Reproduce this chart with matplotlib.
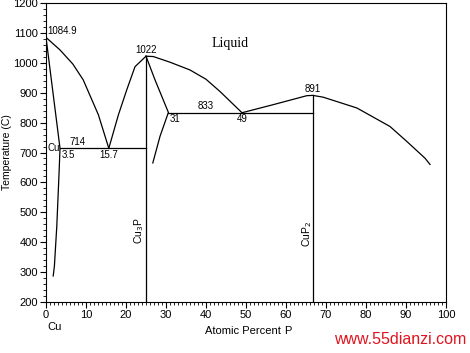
import matplotlib
matplotlib.use("Agg")
import matplotlib.pyplot as plt
from matplotlib.ticker import MultipleLocator

# --- data (atomic percent P, temperature C) ---
cu_liquidus_x = [0, 3.5, 6.7, 9.3, 13.1, 15.7]
cu_liquidus_y = [1084.9, 1043, 996, 943, 826, 714]

cu_solvus_x = [0, 3.5, 3.3, 2.7, 2.1, 1.8]
cu_solvus_y = [1084.9, 714, 643, 454, 320, 287]

cu3p_left_liq_x = [15.7, 18.1, 20.2, 22.25, 25]
cu3p_left_liq_y = [714, 826, 910, 987, 1022]

cu3p_right_liq_x = [25, 26.8, 31, 36, 40, 43.5, 49]
cu3p_right_liq_y = [1022, 1021, 1002, 976, 945, 904, 833]

cu3p_solvus_x = [25, 27.25, 30.6, 28.5, 26.7]
cu3p_solvus_y = [1022, 943, 834, 754, 665]

cup2_liq_x = [49, 56.8, 65.2, 66.7, 69.3, 77.7, 86, 90.2, 94.75, 96]
cup2_liq_y = [833, 860, 890, 891, 885, 849, 787, 737, 681, 660]

eutectic1_x = [3.5, 25]
eutectic1_t = 714
eutectic2_x = [30.6, 66.7]
eutectic2_t = 833

compound_x = [25, 66.7]
compound_t = [1022, 891]
compound_names = ["Cu$_3$P", "CuP$_2$"]

x_ticks = [0, 10, 20, 30, 40, 50, 60, 70, 80, 90, 100]
y_ticks = [200, 300, 400, 500, 600, 700, 800, 900, 1000, 1100, 1200]

plt.rcParams['font.family'] = ['Liberation Sans', 'DejaVu Sans']

fig = plt.figure(figsize=(4.70, 3.53), dpi=100)
ax = fig.add_axes([46/470, 51/353, 400/470, 299/353])
ax.set_xlim(0, 100)
ax.set_ylim(200, 1200)

lw = 0.9
kw = dict(color='black', lw=lw)
ax.plot(cu_liquidus_x, cu_liquidus_y, **kw)
ax.plot(cu_solvus_x, cu_solvus_y, **kw)
ax.plot(cu3p_left_liq_x, cu3p_left_liq_y, **kw)
ax.plot(cu3p_right_liq_x, cu3p_right_liq_y, **kw)
ax.plot(cu3p_solvus_x, cu3p_solvus_y, **kw)
ax.plot(cup2_liq_x, cup2_liq_y, **kw)
ax.plot(eutectic1_x, [eutectic1_t]*2, **kw)
ax.plot(eutectic2_x, [eutectic2_t]*2, **kw)
for xc, tc in zip(compound_x, compound_t):
    ax.plot([xc, xc], [200, tc], **kw)

fs = 7
ax.text(0.3, 1090, "1084.9", fontsize=fs, ha='left', va='bottom')
ax.text(25, 1027, "1022", fontsize=fs, ha='center', va='bottom')
ax.text(66.7, 896, "891", fontsize=fs, ha='center', va='bottom')
ax.text(8, 718, "714", fontsize=fs, ha='center', va='bottom')
ax.text(4.0, 709, "3.5", fontsize=fs, ha='left', va='top')
ax.text(15.7, 709, "15.7", fontsize=fs, ha='center', va='top')
ax.text(0.3, 716, "Cu", fontsize=fs, ha='left', va='center')
ax.text(40, 838, "833", fontsize=fs, ha='center', va='bottom')
ax.text(31, 829, "31", fontsize=fs, ha='left', va='top')
ax.text(49, 829, "49", fontsize=fs, ha='center', va='top')
ax.text(46, 1065, "Liquid", fontsize=10, ha='center', va='center',
        family=['Liberation Serif', 'DejaVu Serif'])
ax.text(23.4, 440, compound_names[0], fontsize=7.5, rotation=90, ha='center', va='center')
ax.text(65.2, 428, compound_names[1], fontsize=7.5, rotation=90, ha='center', va='center')

ax.set_xticks(x_ticks)
ax.set_yticks(y_ticks)
ax.xaxis.set_minor_locator(MultipleLocator(1))
ax.yaxis.set_minor_locator(MultipleLocator(20))
ax.tick_params(which='major', direction='out', length=4, width=0.8, labelsize=8, pad=2)
ax.tick_params(which='minor', direction='out', length=2.5, width=0.6)
for s in ax.spines.values():
    s.set_linewidth(0.8)

ax.set_ylabel("Temperature (C)", fontsize=7.5, labelpad=1)

fig.text(55/470, 1 - 327/353, "Cu", fontsize=8, ha='center', va='center')
fig.text(243/470, 1 - 331/353, "Atomic Percent", fontsize=8, ha='center', va='center')
fig.text(288/470, 1 - 331/353, "P", fontsize=8, ha='center', va='center')
fig.text(400/470, 1 - 340/353, "www.55dianzi.com", fontsize=11.5, color='#e0141e',
         ha='center', va='center')

fig.savefig("out.png", dpi=100)
